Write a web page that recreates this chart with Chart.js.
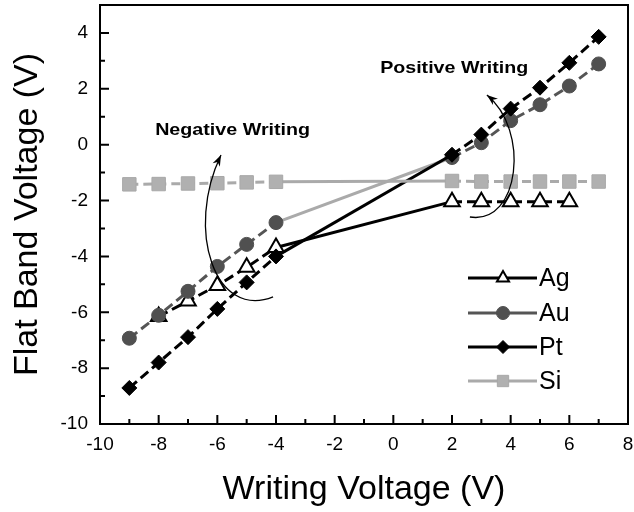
<!DOCTYPE html>
<html><head><meta charset="utf-8">
<script src="https://cdn.jsdelivr.net/npm/chart.js@4/dist/chart.umd.min.js"></script>
<style>html,body{margin:0;padding:0;background:#fff}</style>
</head><body>
<canvas id="c" width="634" height="512"></canvas>
<script>
// ---- data ----
const seriesNames = ['Ag', 'Au', 'Pt', 'Si'];
const agX = [-8, -7, -6, -5, -4, 2, 3, 4, 5, 6];
const agY = [-6.15, -5.6, -5.04, -4.39, -3.68, -2.04, -2.04, -2.04, -2.04, -2.04];
const metalX = [-9, -8, -7, -6, -5, -4, 2, 3, 4, 5, 6, 7];
const auY = [-6.93, -6.11, -5.25, -4.36, -3.57, -2.79, -0.46, 0.07, 0.86, 1.43, 2.1, 2.89];
const ptY = [-8.71, -7.8, -6.89, -5.88, -4.93, -4.0, -0.36, 0.36, 1.29, 2.04, 2.93, 3.86];
const siY = [-1.42, -1.41, -1.39, -1.38, -1.35, -1.33, -1.3, -1.32, -1.32, -1.32, -1.32, -1.32];
const xTicks = [-10, -8, -6, -4, -2, 0, 2, 4, 6, 8];
const yTicks = [-10, -8, -6, -4, -2, 0, 2, 4];
const xTitle = 'Writing Voltage (V)';
const yTitle = 'Flat Band Voltage (V)';
const noteTexts = ['Negative Writing', 'Positive Writing'];
const noteAnchors = [[-8.12, 0.5], [-0.45, 2.75]];
// arrow curves (data coords): start, control1, control2, end (arrow tip)
const negArrow = [[-4.10, -5.45], [-6.08, -6.28], [-7.10, -3.05], [-5.875, -0.37]];
const posArrow = [[2.61, -2.59], [4.32, -2.87], [4.66, 0.53], [3.19, 1.78]];

const FONT = "'Liberation Sans', Arial, sans-serif";
const pts = (xs, ys) => xs.map((x, i) => ({x: x, y: ys[i]}));
const bridge = (ctx, v, dflt) => (ctx.p0.parsed.x === -4 && ctx.p1.parsed.x === 2) ? v : dflt;

const datasets = [
  {label: seriesNames[0], data: pts(agX, agY), order: 4,
   borderColor: '#000', borderWidth: 3, borderDash: [10, 5],
   pointStyle: 'triangle', pointRadius: 9, pointBackgroundColor: '#fff', pointBorderColor: '#000', pointBorderWidth: 2,
   segment: {borderDash: c => bridge(c, [], undefined)}},
  {label: seriesNames[1], data: pts(metalX, auY), order: 3,
   borderColor: '#555', borderWidth: 3, borderDash: [10, 5],
   pointStyle: 'circle', pointRadius: 7, pointBackgroundColor: '#505050', pointBorderColor: '#505050', pointBorderWidth: 1,
   segment: {borderDash: c => bridge(c, [], undefined), borderColor: c => bridge(c, '#aaa', undefined)}},
  {label: seriesNames[2], data: pts(metalX, ptY), order: 2,
   borderColor: '#000', borderWidth: 3, borderDash: [10, 5],
   pointStyle: 'rectRot', pointRadius: 7.5, pointBackgroundColor: '#000', pointBorderColor: '#000', pointBorderWidth: 1,
   segment: {borderDash: c => bridge(c, [], undefined)}},
  {label: seriesNames[3], data: pts(metalX, siY), order: 1,
   borderColor: '#aaa', borderWidth: 3, borderDash: [9, 5],
   pointStyle: 'rect', pointRadius: 9.5, pointBackgroundColor: '#b0b0b0', pointBorderColor: '#a8a8a8', pointBorderWidth: 1,
   segment: {borderDash: c => bridge(c, [], undefined)}}
];
datasets.forEach(d => { d.showLine = true; d.fill = false; d.tension = 0; });

function stretchedText(ctx, text, px, py, font, targetW) {
  ctx.font = font;
  const w = ctx.measureText(text).width;
  const k = targetW / w;
  ctx.save();
  ctx.translate(px, py); ctx.scale(k, 1);
  ctx.fillText(text, 0, 0);
  ctx.restore();
}

const decor = {
  id: 'decor',
  afterDatasetsDraw(chart) {
    const {ctx, chartArea: a, scales: {x, y}} = chart;
    ctx.save();
    // inward ticks
    ctx.strokeStyle = '#000'; ctx.lineWidth = 2;
    ctx.beginPath();
    for (let v = -10; v <= 8; v++) {
      const px = x.getPixelForValue(v), len = (v % 2 === 0) ? 9 : 5;
      ctx.moveTo(px, a.bottom); ctx.lineTo(px, a.bottom - len);
    }
    for (let v = -10; v <= 5; v++) {
      const py = y.getPixelForValue(v), len = (v % 2 === 0) ? 9 : 5;
      ctx.moveTo(a.left, py); ctx.lineTo(a.left + len, py);
    }
    ctx.stroke();
    // frame
    ctx.strokeRect(a.left, a.top, a.right - a.left, a.bottom - a.top);
    // annotations
    ctx.fillStyle = '#000';
    ctx.textAlign = 'left'; ctx.textBaseline = 'middle';
    const noteW = [155, 148];
    noteTexts.forEach((t, i) => stretchedText(ctx, t, x.getPixelForValue(noteAnchors[i][0]), y.getPixelForValue(noteAnchors[i][1]), 'bold 17px ' + FONT, noteW[i]));
    const drawArrow = (c) => {
      const p = c.map(q => [x.getPixelForValue(q[0]), y.getPixelForValue(q[1])]);
      ctx.lineWidth = 1.3; ctx.beginPath();
      ctx.moveTo(p[0][0], p[0][1]);
      ctx.bezierCurveTo(p[1][0], p[1][1], p[2][0], p[2][1], p[3][0], p[3][1]);
      ctx.stroke();
      const ang = Math.atan2(p[3][1] - p[2][1], p[3][0] - p[2][0]);
      const L = 11, W = 4;
      ctx.beginPath();
      ctx.moveTo(p[3][0], p[3][1]);
      ctx.lineTo(p[3][0] - L * Math.cos(ang) + W * Math.sin(ang), p[3][1] - L * Math.sin(ang) - W * Math.cos(ang));
      ctx.lineTo(p[3][0] - L * 0.7 * Math.cos(ang), p[3][1] - L * 0.7 * Math.sin(ang));
      ctx.lineTo(p[3][0] - L * Math.cos(ang) - W * Math.sin(ang), p[3][1] - L * Math.sin(ang) + W * Math.cos(ang));
      ctx.closePath(); ctx.fill();
    };
    drawArrow(negArrow); drawArrow(posArrow);
    // legend
    const lx1 = a.right - 160, lx2 = a.right - 91, lmx = a.right - 125, ltx = a.right - 89;
    const rowY = [a.top + 273, a.top + 308, a.top + 342, a.top + 376];
    ctx.font = '25px ' + FONT; ctx.textBaseline = 'middle';
    datasets.forEach((d, i) => {
      ctx.setLineDash([]); ctx.lineWidth = 3; ctx.strokeStyle = d.borderColor;
      ctx.beginPath(); ctx.moveTo(lx1, rowY[i]); ctx.lineTo(lx2, rowY[i]); ctx.stroke();
      ctx.fillStyle = d.pointBackgroundColor; ctx.strokeStyle = d.pointBorderColor; ctx.lineWidth = d.pointBorderWidth;
      const r = d.pointStyle === 'triangle' ? 7 : (d.pointStyle === 'rect' ? 8 : 6.5);
      Chart.helpers.drawPoint(ctx, {pointStyle: d.pointStyle, radius: r, borderWidth: d.pointBorderWidth, rotation: 0}, lmx, rowY[i]);
      ctx.fillStyle = '#000';
      ctx.fillText(d.label, ltx, rowY[i] + 1);
    });
    ctx.restore();
  }
};

new Chart(document.getElementById('c'), {
  type: 'scatter',
  data: {datasets: datasets},
  options: {
    responsive: false, animation: false, devicePixelRatio: 1,
    layout: {autoPadding: false, padding: {top: 5, right: 6, left: 0, bottom: 0}},
    plugins: {legend: {display: false}, tooltip: {enabled: false}},
    scales: {
      x: {type: 'linear', min: -10, max: 8,
          afterBuildTicks: s => { s.ticks = xTicks.map(v => ({value: v})); },
          afterFit: s => { s.height = 88; s.paddingLeft = 0; s.paddingRight = 0; },
          grid: {display: false, drawTicks: false}, border: {display: false},
          ticks: {padding: 9, color: '#000', font: {family: FONT, size: 19}},
          title: {display: true, text: xTitle, color: '#000', font: {family: FONT, size: 34}, padding: {top: 0, bottom: 2}}},
      y: {type: 'linear', min: -10, max: 5,
          afterBuildTicks: s => { s.ticks = yTicks.map(v => ({value: v})); },
          afterFit: s => { s.width = 100; s.paddingTop = 0; s.paddingBottom = 0; },
          grid: {display: false, drawTicks: false}, border: {display: false},
          ticks: {padding: 12, color: '#000', font: {family: FONT, size: 19}},
          title: {display: true, text: yTitle, color: '#000', font: {family: FONT, size: 34}, padding: {top: 7, bottom: 0}}}
    }
  },
  plugins: [decor]
});
</script>
</body></html>
